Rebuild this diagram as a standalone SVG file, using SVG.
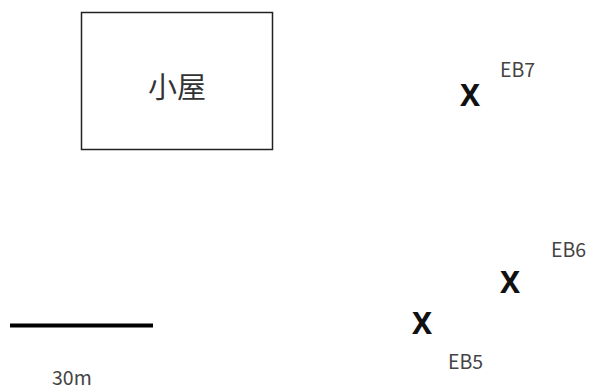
<svg xmlns="http://www.w3.org/2000/svg" width="594" height="390" viewBox="0 0 594 390">
<style>
.lbl{font-family:"Noto Sans CJK JP","Noto Sans",sans-serif;font-size:19.5px;fill:#444}
.x{font-family:"Noto Sans","Noto Sans CJK JP",sans-serif;font-size:30px;font-weight:bold;fill:#111}
</style>
<rect width="594" height="390" fill="#fff"/>
<g id="hut">
<rect x="81.5" y="12.5" width="191" height="137" fill="none" stroke="#222" stroke-width="1.5"/>
<text x="177" y="98" text-anchor="middle" style="font-family:'Noto Sans CJK JP',sans-serif;font-size:29px;fill:#333">小屋</text>
</g>
<g id="EB7">
<text class="x" x="470" y="106" text-anchor="middle">X</text>
<text class="lbl" x="500" y="77">EB7</text>
</g>
<g id="EB6">
<text class="x" x="510" y="293" text-anchor="middle">X</text>
<text class="lbl" x="551" y="257">EB6</text>
</g>
<g id="EB5">
<text class="x" x="422" y="334" text-anchor="middle">X</text>
<text class="lbl" x="448" y="369">EB5</text>
</g>
<g id="scale">
<line x1="10" y1="325.5" x2="153" y2="325.5" stroke="#000" stroke-width="4"/>
<text class="lbl" x="52" y="385">30m</text>
</g>
</svg>
